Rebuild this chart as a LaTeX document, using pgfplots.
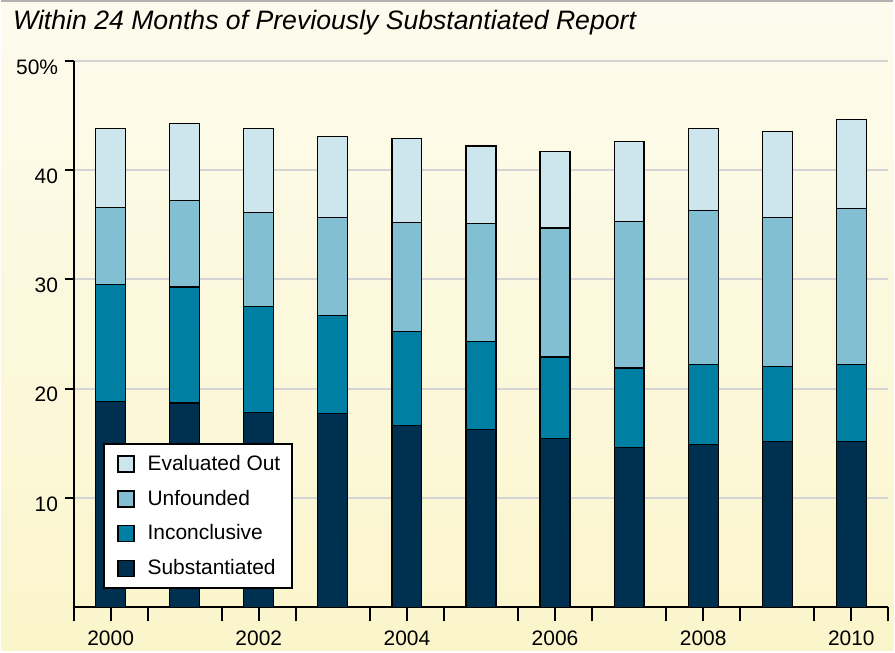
\documentclass[border=0pt]{standalone}
\usepackage{pgfplots}
\pgfplotsset{compat=1.18}
\usepackage{pgfplotstable}
\usepackage{fontspec}
\setmainfont{Liberation Sans}
\definecolor{cS}{HTML}{00304F}
\definecolor{cI}{HTML}{007FA3}
\definecolor{cU}{HTML}{82BFD2}
\definecolor{cE}{HTML}{CDE5EC}
\definecolor{bgtop}{HTML}{FDFBEE}
\definecolor{bgbot}{HTML}{FBF5CB}
\definecolor{gridc}{HTML}{D4D4D4}
\pgfplotstableread{
x S I U E
0 18.85 10.65 7.1 7.2
1 18.7 10.6 7.9 7.1
2 17.8 9.7 8.6 7.7
3 17.7 9.0 9.0 7.4
4 16.6 8.6 10.0 7.7
5 16.3 8.0 10.8 7.1
6 15.45 7.45 11.8 7.0
7 14.6 7.3 13.4 7.3
8 14.9 7.3 14.1 7.5
9 15.15 6.85 13.7 7.8
10 15.15 7.05 14.3 8.1
}\datatable
\begin{document}
\begin{tikzpicture}
\shade[top color=bgtop, bottom color=bgbot] (0,0) rectangle (447.5pt,326pt);
\draw[black!30, line width=0.8pt] (0,325.6pt) -- (447.5pt,325.6pt);
\node[anchor=base west, inner sep=0pt, font=\itshape\fontsize{13.35}{16}\selectfont] at (6pt,311pt) {Within 24 Months of Previously Substantiated Report};
\begin{axis}[
  at={(36.5pt,21.5pt)}, anchor=south west,
  scale only axis, width=408.5pt, height=274pt,
  ybar stacked, bar width=15pt,
  xmin=-0.5, xmax=10.5, ymin=0, ymax=50,
  axis x line*=bottom, axis y line*=left,
  axis line style={line width=1pt, black},
  tick align=outside,
  xtick={-0.5,0.5,...,10.5}, xticklabels={},
  xtick style={/pgfplots/major tick length=7pt, line width=1pt, black},
  extra x ticks={0,2,4,6,8,10},
  extra x tick labels={2000,2002,2004,2006,2008,2010},
  extra x tick style={major tick length=0pt, grid=none, tick label style={yshift=-8.5pt}},
  ytick={10,20,30,40,50}, yticklabels={10,20,30,40,50\%},
  yticklabel style={yshift=-3pt},
  ytick style={/pgfplots/major tick length=4.5pt, line width=1pt, black},
  ymajorgrids, grid style={line width=1pt, color=gridc},
  tick label style={font=\fontsize{10.5}{12}\selectfont, black},
  every axis plot/.append style={draw=black, line width=0.6pt},
  reverse legend=true,
  legend style={at={(rel axis cs:0.0367,0.0328)}, anchor=south west, draw=black, line width=1pt, fill=white,
    font=\fontsize{10.5}{12}\selectfont, row sep=4.3pt, inner xsep=0.5pt, inner ysep=3.5pt, cells={anchor=west},
    nodes={inner xsep=5.5pt}},
  legend image code/.code={\path (0pt,0pt); \draw[#1, line width=0.8pt] (6pt,-4pt) rectangle (14pt,4pt); \path (15pt,0pt);},
]
\addplot[fill=cS] table[x=x,y=S]{\datatable};
\addplot[fill=cI] table[x=x,y=I]{\datatable};
\addplot[fill=cU] table[x=x,y=U]{\datatable};
\addplot[fill=cE] table[x=x,y=E]{\datatable};
\legend{Substantiated, Inconclusive, Unfounded, Evaluated Out}
\end{axis}
\end{tikzpicture}
\end{document}
